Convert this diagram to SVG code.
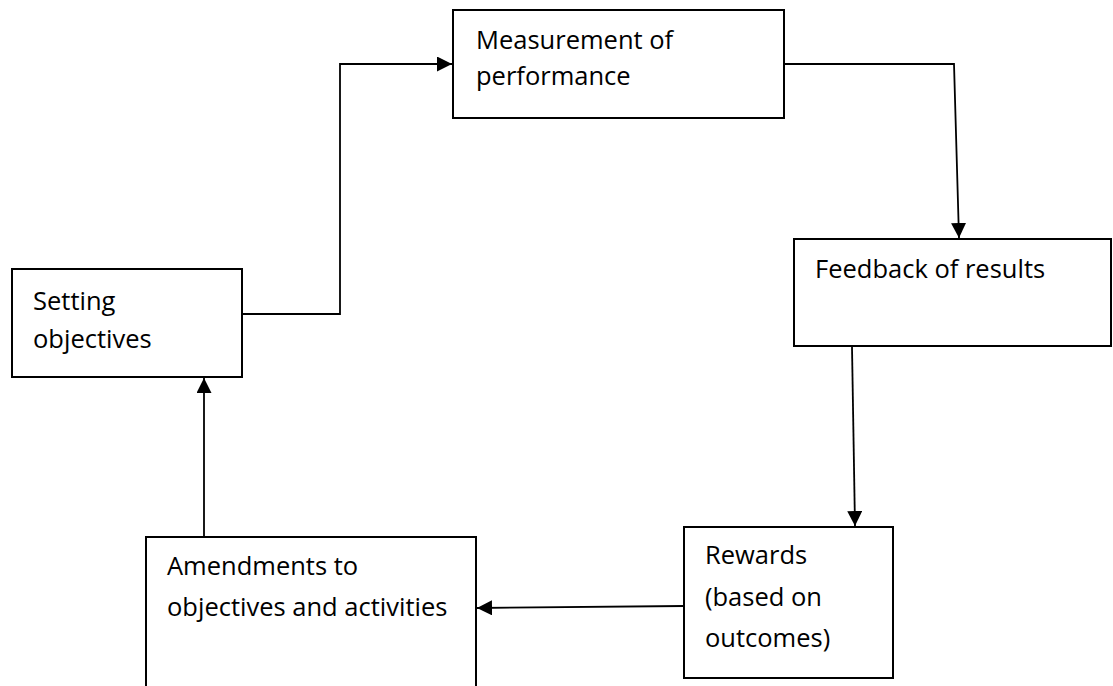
<svg xmlns="http://www.w3.org/2000/svg" width="1113" height="686" viewBox="0 0 1113 686">
<style>
.box{fill:#fff;stroke:#000;stroke-width:2}
.lbl{font-family:"Open Sans","Noto Sans","Liberation Sans",sans-serif;font-size:25.5px;fill:#000}
.con{fill:none;stroke:#000;stroke-width:1.8}
</style>
<defs>
<marker id="arr" markerUnits="userSpaceOnUse" markerWidth="15" markerHeight="15" viewBox="0 0 15 15" refX="15" refY="7.5" orient="auto">
<path d="M0,0 L15,7.5 L0,15 Z" fill="#000"/>
</marker>
</defs>
<rect width="1113" height="686" fill="#fff"/>
<g id="connectors">
<polyline class="con" points="242,314 340,314 340,64 452,64" marker-end="url(#arr)"/>
<polyline class="con" points="784,64 954,64 959,238" marker-end="url(#arr)"/>
<line class="con" x1="852" y1="347" x2="855" y2="526" marker-end="url(#arr)"/>
<line class="con" x1="684" y1="606" x2="477" y2="608" marker-end="url(#arr)"/>
<line class="con" x1="204" y1="537" x2="204" y2="378" marker-end="url(#arr)"/>
</g>
<g id="measurement">
<rect class="box" x="453" y="10" width="331" height="108"/>
<text class="lbl" x="476" y="49">Measurement of</text>
<text class="lbl" x="476" y="85">performance</text>
</g>
<g id="setting">
<rect class="box" x="12" y="269" width="230" height="108"/>
<text class="lbl" x="33" y="310">Setting</text>
<text class="lbl" x="33" y="348">objectives</text>
</g>
<g id="feedback">
<rect class="box" x="794" y="239" width="317" height="107"/>
<text class="lbl" x="815" y="278">Feedback of results</text>
</g>
<g id="rewards">
<rect class="box" x="684" y="527" width="209" height="151"/>
<text class="lbl" x="705" y="564">Rewards</text>
<text class="lbl" x="705" y="606">(based on</text>
<text class="lbl" x="705" y="647">outcomes)</text>
</g>
<g id="amendments">
<rect class="box" x="146" y="537" width="330" height="160"/>
<text class="lbl" x="167" y="575">Amendments to</text>
<text class="lbl" x="167" y="616">objectives and activities</text>
</g>
</svg>
